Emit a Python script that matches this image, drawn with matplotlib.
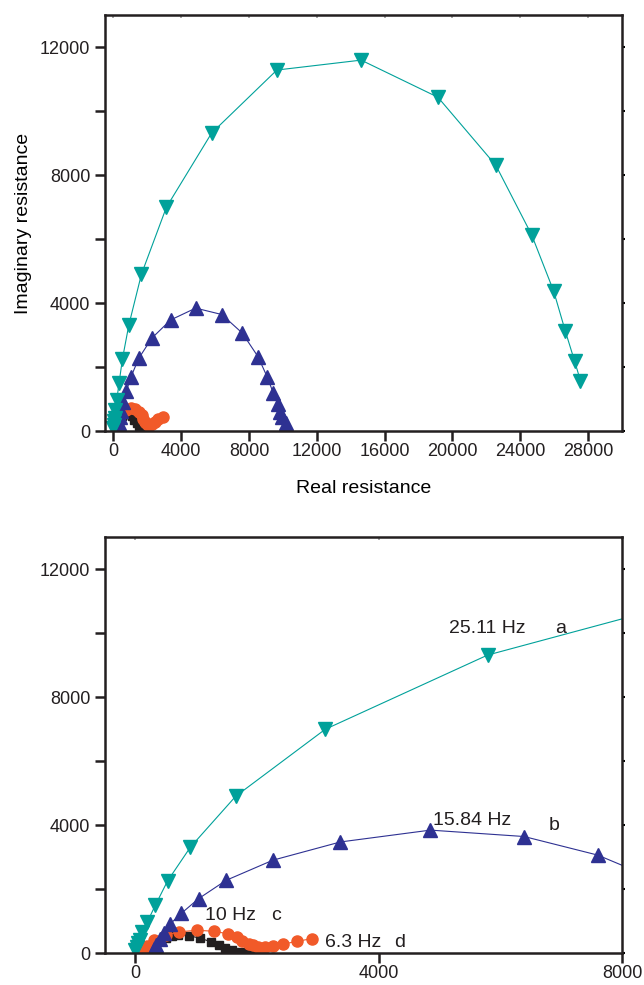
import matplotlib
matplotlib.use("Agg")
import matplotlib.pyplot as plt
from matplotlib.ticker import MultipleLocator, NullFormatter

plt.rcParams['font.family'] = ['Liberation Sans', 'DejaVu Sans']

# series a: 25.11 Hz (teal, down triangles)
a_x = [-10, 20, 50, 80, 112, 195, 330, 528, 905, 1650, 3120, 5790, 9640, 14610,
       19140, 22560, 24670, 25970, 26660, 27200, 27550]
a_y = [80, 200, 300, 406, 660, 970, 1500, 2250, 3310, 4900, 6990, 9310, 11280, 11590,
       10430, 8300, 6130, 4370, 3115, 2190, 1570]

# series b: 15.84 Hz (navy, up triangles)
b_x = [300, 345, 400, 465, 565, 755, 1040, 1490, 2260, 3370, 4850, 6390, 7600,
       8530, 9060, 9420, 9680, 9810, 9970, 10170]
b_y = [115, 250, 430, 635, 895, 1240, 1700, 2270, 2900, 3470, 3840, 3640, 3060,
       2320, 1700, 1200, 845, 600, 430, 240]

# series c: 10 Hz (orange circles)
c_x = [130, 190, 310, 495, 710, 1010, 1290, 1520, 1670, 1760, 1860, 1930, 2010,
       2130, 2260, 2430, 2650, 2900]
c_y = [120, 230, 400, 560, 660, 710, 680, 600, 490, 380, 280, 235, 195,
       195, 220, 280, 360, 450]

# series d: 6.3 Hz (black squares)
d_x = [260, 330, 400, 500, 600, 700, 880, 1070, 1240, 1370, 1480, 1590, 1730, 1850, 1950]
d_y = [100, 250, 380, 480, 540, 560, 540, 460, 350, 250, 150, 95, 45, 20, 5]

teal = '#00a19a'
navy = '#2e3192'
orange = '#f15a29'
black = '#231f20'

labels = [("25.11 Hz", 5150, 10150), ("a", 6900, 10150),
          ("15.84 Hz", 4900, 4130), ("b", 6790, 3980),
          ("10 Hz", 1150, 1160), ("c", 2230, 1160),
          ("6.3 Hz", 3120, 320), ("d", 4250, 320)]

W, H = 644, 985
fig = plt.figure(figsize=(W / 100, H / 100), dpi=100)
ax1 = fig.add_axes([105 / W, 1 - 431 / H, 517 / W, 416 / H])
ax2 = fig.add_axes([105 / W, 1 - 953 / H, 517 / W, 416 / H])


def draw(ax):
    ax.plot(d_x, d_y, color=black, lw=0.8, marker='s', ms=5.5, mec=black, mfc=black)
    ax.plot(c_x, c_y, color=orange, lw=0.8, marker='o', ms=8, mec=orange, mfc=orange)
    ax.plot(b_x, b_y, color=navy, lw=0.8, marker='^', ms=9.5, mec=navy, mfc=navy)
    ax.plot(a_x, a_y, color=teal, lw=0.8, marker='v', ms=9.5, mec=teal, mfc=teal)


def style(ax, xmajor):
    for s in ax.spines.values():
        s.set_linewidth(1.8)
        s.set_color(black)
    ax.yaxis.set_major_locator(MultipleLocator(4000))
    ax.yaxis.set_minor_locator(MultipleLocator(2000))
    ax.yaxis.set_minor_formatter(NullFormatter())
    ax.xaxis.set_major_locator(MultipleLocator(xmajor))
    ax.tick_params(which='both', direction='out', width=1.8, color=black,
                   labelsize=13, labelcolor=black, length=7)
    ax.tick_params(axis='x', pad=2)
    # small marks on right and top spines
    sec_r = ax.secondary_yaxis('right')
    sec_r.yaxis.set_major_locator(MultipleLocator(2000))
    sec_r.tick_params(direction='out', length=2, width=1.5, labelright=False)
    sec_r.spines['right'].set_visible(False)
    sec_t = ax.secondary_xaxis('top')
    sec_t.xaxis.set_major_locator(MultipleLocator(xmajor))
    sec_t.tick_params(direction='in', length=2.5, width=1.2, colors='#999999',
                      labeltop=False)
    sec_t.spines['top'].set_visible(False)


draw(ax1)
ax1.set_xlim(-500, 30000)
ax1.set_ylim(0, 13000)
style(ax1, 4000)
ax1.set_xlabel("Real resistance", fontsize=14, labelpad=14)
ax1.set_ylabel("Imaginary resistance", fontsize=14, labelpad=6)

draw(ax2)
ax2.set_xlim(-500, 8000)
ax2.set_ylim(0, 13000)
style(ax2, 4000)
for txt, x, y in labels:
    ax2.text(x, y, txt, fontsize=14, ha='left', va='center', color=black)

fig.savefig("out.png", dpi=100)
